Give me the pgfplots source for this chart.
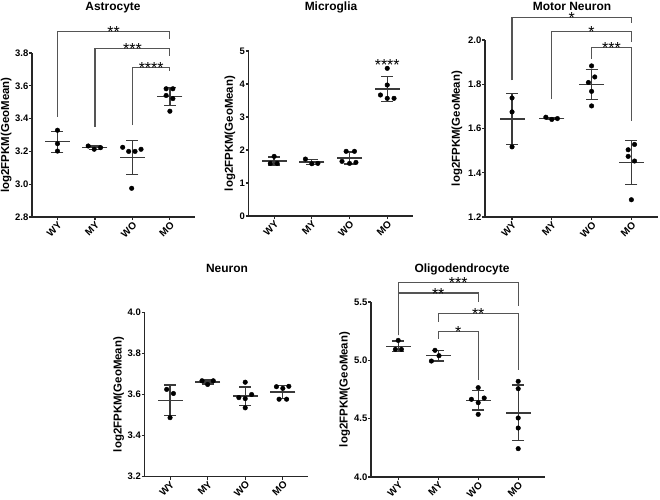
\documentclass[border=0pt]{standalone}
\usepackage{pgfplots}
\pgfplotsset{compat=1.18}
\usepackage{fontspec}
\setmainfont{Liberation Sans}
\definecolor{ln}{HTML}{3A3A3A}
\definecolor{br}{HTML}{555555}

\pgfplotsset{
  panel/.style={
    scale only axis, anchor=south west, clip=false,
    axis lines*=left,
    axis line style={line width=1.2bp, black!85, -},
    tick style={line width=1.1bp, black!85}, tick align=outside,
    major tick length=3bp,
    xmin=-0.68, xmax=3.67,
    xtick={0,1,2,3}, xticklabels={WY,MY,WO,MO},
    xticklabel style={rotate=45, anchor=north east, inner sep=0.5bp,
      font=\bfseries\fontsize{10}{11}\selectfont},
    yticklabel style={font=\bfseries\fontsize{9.5}{10}\selectfont, inner sep=0.5bp,
      /pgf/number format/.cd, fixed, fixed zerofill, precision=1},
    /pgf/number format/assume math mode=true,
    ylabel={log2FPKM(GeoMean)},
    ylabel style={font=\bfseries\fontsize{11.5}{13}\selectfont, anchor=base},
  },
  meanbar/.style={only marks, mark=-, mark size=12.5bp, color=ln,
    mark options={line width=1.3bp},
    error bars/.cd, y dir=both, y explicit,
    error bar style={line width=1.3bp, color=ln},
    error mark options={rotate=90, mark size=6bp, line width=1.3bp, color=ln}},
  pts/.style={only marks, mark=*, mark size=2.3bp, black},
  brk/.style={line width=1.1bp, br, mark=none},
}
\tikzset{stars/.style={anchor=base, inner sep=0pt, yshift=-6bp, font=\fontsize{16}{16}\selectfont}}

\begin{document}
\begin{tikzpicture}
\useasboundingbox (0,0) rectangle (660bp,-500bp);

% titles
\begin{scope}[every node/.style={anchor=base, font=\bfseries\fontsize{12}{13}\selectfont}]
\node at (113bp,-10.5bp) {Astrocyte};
\node at (331bp,-10.5bp) {Microglia};
\node at (572bp,-10.5bp) {Motor Neuron};
\node at (227bp,-272bp) {Neuron};
\node at (462bp,-272bp) {Oligodendrocyte};
\end{scope}

% Astrocyte
\begin{axis}[panel, at={(32bp,-217bp)}, width=163bp, height=164bp,
  ymin=2.8, ymax=3.8, ytick={2.8,3.0,3.2,3.4,3.6,3.8},
  ylabel style={at={(axis description cs:-0.14,0.5)}}]
\addplot[meanbar] coordinates {(0,3.259) +- (0,0.064) (1,3.223) +- (0,0.010)
  (2,3.163) +- (0,0.105) (3,3.534) +- (0,0.056)};
\addplot[pts] coordinates {(0,3.329) (0,3.247) (0,3.202)
  (0.82,3.233) (0.98,3.213) (1.15,3.223)
  (1.74,3.225) (1.90,3.200) (2.07,3.200) (2.23,3.213) (1.98,2.975)
  (2.90,3.582) (3.08,3.582) (2.90,3.541) (3.08,3.522) (3.00,3.445)};
\addplot[brk] coordinates {(0,3.41) (0,3.93) (3,3.93) (3,3.886)};
\addplot[brk] coordinates {(1,3.35) (1,3.827) (3,3.827) (3,3.78)};
\addplot[brk] coordinates {(2,3.36) (2,3.71) (3,3.71) (3,3.69)};
\node[stars] at (axis cs:1.5,3.93) {**};
\node[stars] at (axis cs:2,3.827) {***};
\node[stars] at (axis cs:2.5,3.71) {****};
\end{axis}

% Microglia
\begin{axis}[panel, at={(248.5bp,-216bp)}, width=164bp, height=165bp,
  ymin=0, ymax=5, ytick={0,1,2,3,4,5},
  yticklabel style={/pgf/number format/.cd, precision=0, fixed zerofill=false},
  ylabel style={at={(axis description cs:-0.095,0.5)}}]
\addplot[meanbar] coordinates {(0,1.665) +- (0,0.123) (1,1.635) +- (0,0.079)
  (2,1.759) +- (0,0.185) (3,3.849) +- (0,0.387)};
\addplot[pts] coordinates {(0,1.807) (-0.10,1.594) (0.08,1.594)
  (0.83,1.726) (1.00,1.584) (1.16,1.594)
  (1.91,1.960) (2.13,1.960) (1.80,1.655) (2.00,1.594) (2.17,1.624)
  (3.00,4.475) (3.00,3.970) (2.82,3.667) (3.00,3.566) (3.18,3.566)};
\node[stars, yshift=-3.3bp] at (axis cs:3,4.68) {****};
\end{axis}

% Motor Neuron
\begin{axis}[panel, at={(485bp,-217bp)}, width=173bp, height=177bp,
  ymin=1.2, ymax=2.0, ytick={1.2,1.4,1.6,1.8,2.0},
  ylabel style={at={(axis description cs:-0.145,0.5)}}]
\addplot[meanbar] coordinates {(0,1.643) +- (0,0.114) (1,1.646) +- (0,0.005)
  (2,1.799) +- (0,0.068) (3,1.447) +- (0,0.099)};
\addplot[pts] coordinates {(0,1.738) (0,1.675) (0,1.517)
  (0.85,1.651) (1.00,1.641) (1.14,1.645)
  (2.00,1.883) (2.08,1.833) (1.92,1.808) (2.00,1.768) (2.00,1.702)
  (3.08,1.528) (2.92,1.504) (2.92,1.474) (3.08,1.453) (3.00,1.278)};
\addplot[brk] coordinates {(0,1.817) (0,2.102) (3,2.102) (3,2.076)};
\addplot[brk] coordinates {(1,1.733) (1,2.038) (3,2.038) (3,1.993)};
\addplot[brk] coordinates {(2,1.916) (2,1.965) (3,1.965) (3,1.634)};
\node[stars] at (axis cs:1.5,2.102) {*};
\node[stars] at (axis cs:2,2.038) {*};
\node[stars] at (axis cs:2.5,1.965) {***};
\end{axis}

% Neuron
\begin{axis}[panel, at={(144.5bp,-476.5bp)}, width=163.5bp, height=164bp,
  ymin=3.2, ymax=4.0, ytick={3.2,3.4,3.6,3.8,4.0},
  ylabel style={at={(axis description cs:-0.14,0.5)}}]
\addplot[meanbar] coordinates {(0,3.572) +- (0,0.0746) (1,3.661) +- (0,0.0104)
  (2,3.592) +- (0,0.045) (3,3.612) +- (0,0.0326)};
\addplot[pts] coordinates {(-0.09,3.625) (0.09,3.605) (0,3.487)
  (0.85,3.667) (1.15,3.667) (1.00,3.649)
  (2.00,3.660) (1.83,3.585) (2.00,3.580) (2.17,3.600) (2.00,3.535)
  (2.83,3.638) (3.00,3.630) (3.16,3.640) (2.90,3.577) (3.10,3.577)};
\end{axis}

% Oligodendrocyte
\begin{axis}[panel, at={(371bp,-477bp)}, width=174bp, height=175bp,
  ymin=4.0, ymax=5.5, ytick={4.0,4.5,5.0,5.5},
  ylabel style={at={(axis description cs:-0.134,0.5)}}]
\addplot[meanbar] coordinates {(0,5.120) +- (0,0.0445) (1,5.040) +- (0,0.046)
  (2,4.657) +- (0,0.0825) (3,4.549) +- (0,0.239)};
\addplot[pts] coordinates {(-0.07,5.094) (0.08,5.094) (0,5.171)
  (0.92,5.086) (1.02,5.040) (0.83,4.994)
  (2.00,4.766) (1.83,4.666) (2.15,4.677) (2.00,4.637) (2.00,4.537)
  (3.00,4.820) (3.00,4.757) (3.00,4.506) (3.00,4.420) (3.00,4.243)};
\addplot[brk] coordinates {(0,5.214) (0,5.671) (3,5.671) (3,5.463)};
\addplot[brk] coordinates {(0,5.214) (0,5.577) (2,5.577) (2,5.50)};
\addplot[brk] coordinates {(1,5.33) (1,5.40) (3,5.40) (3,4.914)};
\addplot[brk] coordinates {(1,5.186) (1,5.251) (2,5.251) (2,4.829)};
\node[stars] at (axis cs:1.5,5.671) {***};
\node[stars] at (axis cs:1,5.577) {**};
\node[stars] at (axis cs:2,5.40) {**};
\node[stars] at (axis cs:1.5,5.251) {*};
\end{axis}
\end{tikzpicture}
\end{document}
